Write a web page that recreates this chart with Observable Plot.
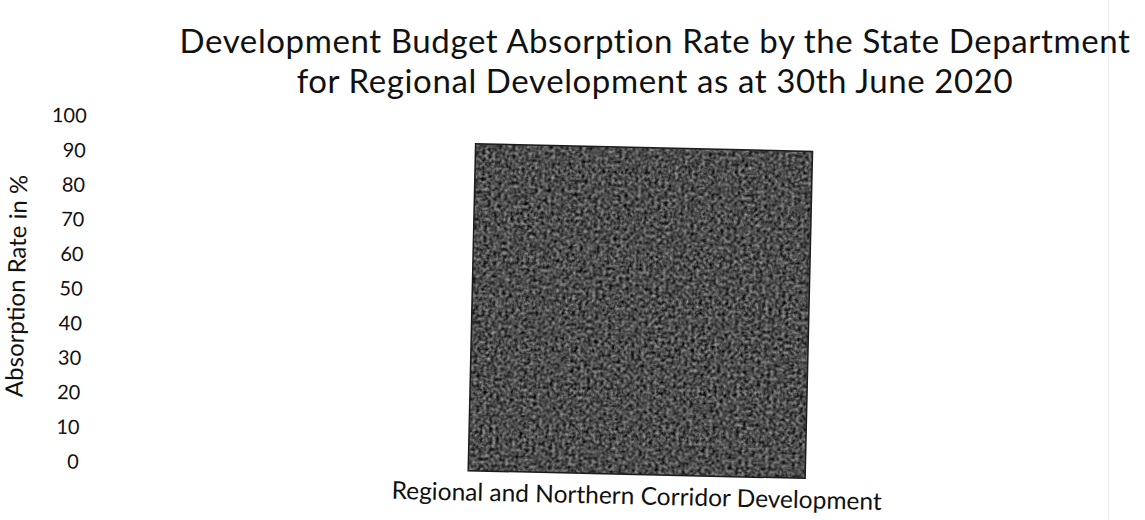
<!DOCTYPE html>
<html>
<head>
<meta charset="utf-8">
<script src="https://cdn.jsdelivr.net/npm/d3@7"></script>
<script src="https://cdn.jsdelivr.net/npm/@observablehq/plot@0.6"></script>
<style>
  html, body { margin: 0; padding: 0; background: #fff; }
  body { position: relative; width: 1145px; height: 520px; overflow: hidden; font-family: Lato, "Open Sans", sans-serif; color: #111; }
  #title { position: absolute; left: 0; top: 20px; width: 1310px; text-align: center; font-size: 33px; line-height: 40px; letter-spacing: 0.6px; }
  #title div { white-space: nowrap; }
  #chart { position: absolute; left: 0; top: 100px; width: 1145px; height: 420px;
           transform: rotate(1.3deg); transform-origin: 572px 160px; }
  #edge { position: absolute; left: 1108px; top: 0; width: 1px; height: 520px; background: #ececec; }
</style>
</head>
<body>
<div id="edge"></div>
<div id="title"><div>Development Budget Absorption Rate by the State Department</div><div>for Regional Development as at 30th June 2020</div></div>
<div id="chart"></div>
<script>
const categories = ["Regional and Northern Corridor Development"];
const absorptionRate = [94.5];
const yTicks = [0, 10, 20, 30, 40, 50, 60, 70, 80, 90, 100];
const yLabel = "Absorption Rate in %";

const data = categories.map((c, i) => ({category: c, value: absorptionRate[i]}));

const plot = Plot.plot({
  width: 1145,
  height: 420,
  marginTop: 27,
  marginBottom: 47,
  marginLeft: 88,
  marginRight: 20,
  style: {fontFamily: "Lato, 'Open Sans', sans-serif", color: "#111", background: "transparent", overflow: "visible"},
  x: {domain: categories, range: [473, 810], padding: 0, axis: null},
  y: {domain: [0, 100], axis: null},
  marks: [
    Plot.barY(data, {x: "category", y: "value", fill: "#444"}),
    Plot.barY(data, {x: "category", y: "value", fill: "none", stroke: "#1c1c1c", strokeWidth: 1.5}),
    Plot.axisY({ticks: yTicks, tickSize: 0, tickPadding: 5, fontSize: 20, label: null}),
    Plot.axisX({tickSize: 0, tickPadding: 12, fontSize: 24.5, label: null}),
    Plot.text([yLabel], {frameAnchor: "left", dx: -70.5, dy: -2, rotate: -90, textAnchor: "middle", fontSize: 24, text: d => d})
  ]
});

// grainy scanned texture for the bar fill
const ns = "http://www.w3.org/2000/svg";
const defs = document.createElementNS(ns, "defs");
defs.innerHTML = `
  <filter id="grain" x="0" y="0" width="1" height="1" color-interpolation-filters="sRGB">
    <feTurbulence type="fractalNoise" baseFrequency="0.3" numOctaves="2" seed="7" result="t"/>
    <feColorMatrix in="t" type="saturate" values="0" result="g"/>
    <feComponentTransfer in="g" result="g2">
      <feFuncR type="linear" slope="1.2" intercept="-0.3"/>
      <feFuncG type="linear" slope="1.2" intercept="-0.3"/>
      <feFuncB type="linear" slope="1.2" intercept="-0.3"/>
      <feFuncA type="table" tableValues="1 1"/>
    </feComponentTransfer>
    <feComposite in="g2" in2="SourceAlpha" operator="in"/>
  </filter>`;
plot.insertBefore(defs, plot.firstChild);
const bars = plot.querySelectorAll('g[aria-label="bar"]');
if (bars.length) bars[0].setAttribute("filter", "url(#grain)");

document.getElementById("chart").appendChild(plot);
</script>
</body>
</html>
